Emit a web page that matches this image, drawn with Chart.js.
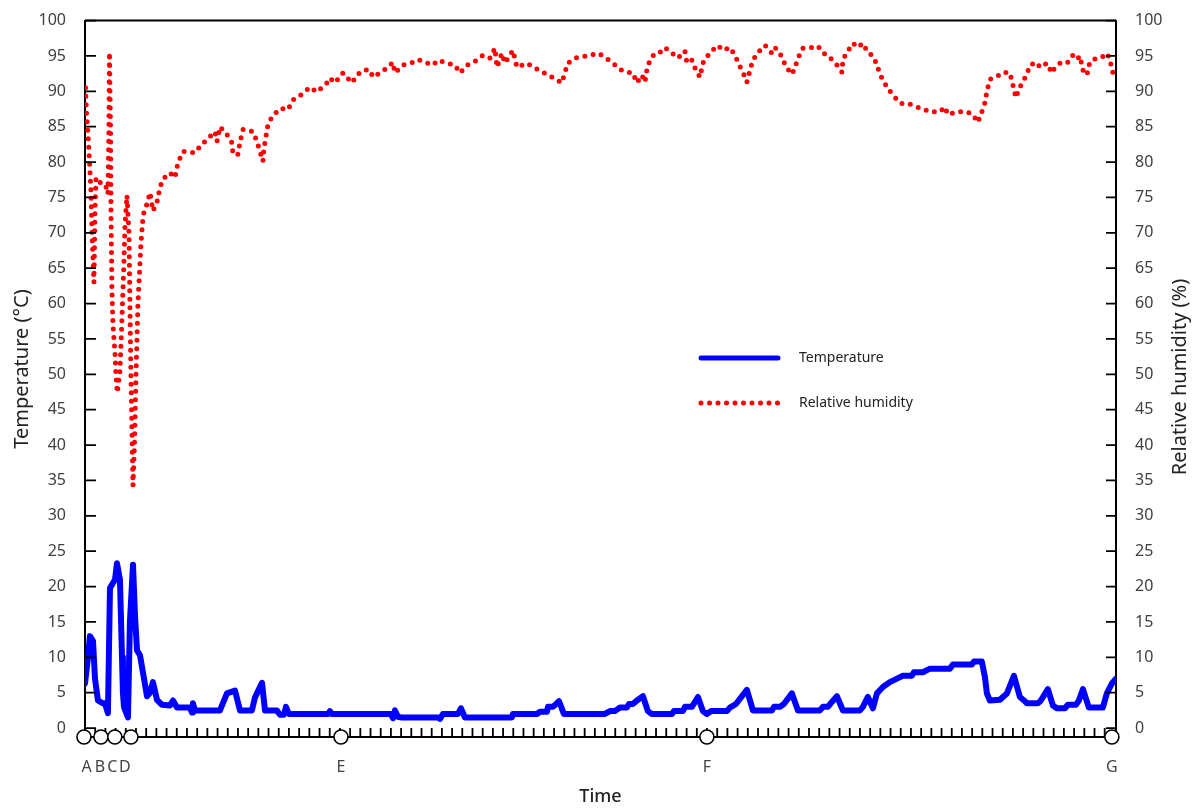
<!DOCTYPE html>
<html>
<head>
<meta charset="utf-8">
<script src="https://cdn.jsdelivr.net/npm/chart.js@4.4.1/dist/chart.umd.min.js"></script>
<style>
  html, body { margin: 0; padding: 0; background: #fff; }
  #wrap { width: 1200px; height: 811px; position: relative; }
</style>
</head>
<body>
<div id="wrap"><canvas id="climateChart"></canvas></div>
<script>
// time axis units: 0 = A, 100 = G
const tempTime = [0.1, 0.39, 0.58, 0.88, 1.07, 1.36, 1.85, 2.04, 2.33, 2.53, 2.82, 3.02, 3.21, 3.5, 3.7, 3.79, 3.89, 4.28,
  4.47, 4.77, 4.96, 5.16, 5.45, 5.84, 6.13, 6.42, 6.71, 7.1, 7.59, 8.37, 8.66, 9.05, 10.31, 10.51, 10.6, 10.8,
  13.23, 13.91, 14.69, 15.18, 16.34, 16.63, 17.32, 17.61, 18.77, 19.07, 19.46, 19.65, 19.94, 23.74, 23.93, 24.12,
  29.86, 30.06, 30.25, 30.54, 30.93, 34.44, 34.63, 34.92, 36.38, 36.67, 37.06, 41.63, 41.73, 44.07, 44.36, 45.04,
  45.14, 45.62, 46.21, 46.69, 50.68, 51.17, 51.65, 52.14, 52.82, 53.02, 53.4, 53.79, 54.38, 54.86, 55.25, 57.2,
  57.39, 58.27, 58.46, 59.14, 59.73, 60.21, 60.6, 60.99, 62.55, 62.84, 63.42, 64.49, 65.08, 66.93, 67.12, 67.7,
  68.09, 68.87, 69.46, 71.6, 71.89, 72.37, 72.76, 73.25, 73.83, 75.49, 75.78, 76.26, 76.75, 77.14, 77.72, 78.4,
  79.09, 79.67, 80.54, 80.74, 81.61, 82.3, 84.24, 84.53, 86.38, 86.58, 87.35, 87.65, 87.84, 88.13, 89.11, 89.4,
  89.79, 90.47, 91.05, 91.54, 91.73, 92.8, 93.09, 93.77, 94.26, 94.65, 95.43, 95.72, 96.5, 96.79, 97.18, 97.76,
  99.12, 99.51, 100, 100.4];
const temperature = [6.3, 10, 13, 12.3, 7, 3.9, 3.5, 3.5, 2.1, 19.8, 20.5, 21, 23.3, 21, 10, 5, 3, 1.5,
  15, 23.1, 16, 11, 10.3, 7, 4.5, 5, 6.5, 4, 3.3, 3.2, 3.9, 2.9, 2.9, 2.2, 3.5, 2.5,
  2.5, 4.9, 5.3, 2.5, 2.5, 4.3, 6.4, 2.5, 2.5, 1.9, 1.9, 3, 2, 2, 2.4, 2,
  2, 1.4, 2.5, 1.6, 1.5, 1.5, 1.3, 2, 2, 2.8, 1.5, 1.5, 2, 2, 2.3, 2.3,
  3, 3, 3.8, 2, 2, 2.4, 2.4, 2.9, 2.9, 3.4, 3.4, 3.9, 4.5, 2.4, 2, 2,
  2.4, 2.4, 3, 3, 4.4, 2.4, 2, 2.4, 2.4, 2.9, 3.4, 5.4, 2.5, 2.5, 3, 3,
  3.4, 4.9, 2.5, 2.5, 3, 3, 3.7, 4.5, 2.5, 2.5, 3, 4.4, 2.8, 4.9, 5.8, 6.5,
  7, 7.4, 7.4, 7.9, 7.9, 8.4, 8.4, 9, 9, 9.4, 9.4, 7.2, 4.9, 3.9, 4, 4.4,
  4.9, 7.4, 4.4, 3.8, 3.5, 3.5, 3.9, 5.5, 3.2, 2.8, 2.8, 3.3, 3.3, 3.9, 5.5, 2.9,
  2.9, 4.9, 6.3, 7];

const humTime = [0.15, 0.24, 0.39, 0.54, 0.68, 0.78, 0.92, 0.97, 1.02, 1.07, 1.17, 1.36, 1.65, 1.85, 2.14, 2.33,
  2.43, 2.48, 2.58, 2.63, 2.72, 2.82, 3.02, 3.11, 3.24, 3.5, 3.7, 3.89, 3.99, 4.18, 4.38, 4.47, 4.57, 4.67, 4.77,
  4.91, 5.06, 5.25, 5.54, 5.74, 5.93, 6.13, 6.42, 6.71, 7.1, 7.39, 7.68, 8.37, 8.85, 9.14, 9.63, 10.8, 11.28,
  11.96, 12.74, 12.94, 13.23, 13.91, 14.4, 14.49, 14.98, 15.18, 15.47, 16.44, 16.83, 17.12, 17.41, 17.51, 17.7,
  17.9, 18.29, 19.07, 19.84, 20.33, 21.21, 21.98, 22.67, 23.64, 23.93, 24.42, 25.19, 26.07, 26.56, 27.14, 27.82,
  28.11, 28.79, 29.47, 30.06, 30.25, 31.03, 32, 32.49, 33.17, 33.95, 34.44, 35.31, 36.09, 36.58, 37.26, 38.23,
  38.81, 39.49, 39.98, 40.18, 40.66, 40.95, 41.73, 42.12, 43.09, 43.87, 44.65, 45.53, 46.5, 46.79, 47.08, 47.96,
  49.03, 50, 50.49, 51.46, 52.14, 52.82, 53.4, 53.79, 54.28, 54.57, 54.77, 55.06, 55.54, 56.03, 56.52, 57.2,
  57.78, 58.46, 58.66, 59.14, 59.44, 59.92, 60.21, 60.89, 61.67, 62.16, 62.84, 63.33, 63.62, 64.11, 64.49, 64.79,
  65.08, 65.56, 66.25, 66.93, 67.22, 67.7, 68, 68.39, 68.87, 69.16, 69.46, 69.94, 70.82, 71.4, 71.89, 72.37,
  73.05, 73.54, 73.74, 73.83, 74.22, 74.81, 75.29, 75.78, 76.26, 76.75, 77.14, 77.43, 77.82, 78.21, 78.7, 79.18,
  79.67, 80.35, 81.03, 81.61, 82.3, 83.27, 83.75, 84.05, 84.92, 85.89, 86.48, 86.96, 87.35, 87.65, 87.84, 88.13,
  88.81, 89.4, 90.08, 90.37, 90.66, 90.86, 91.25, 91.73, 92.02, 92.7, 93, 93.68, 94.16, 94.46, 95.14, 95.72,
  96.21, 96.6, 96.89, 97.18, 97.57, 97.86, 98.54, 99.03, 99.51, 99.81, 100, 100.3];
const humidity = [90.5, 87, 84, 80, 76, 70, 65, 63, 68, 73, 77.8, 77.5, 77, 76.5, 76.5, 75.5,
  85, 95.5, 85, 73, 62, 57, 53, 50, 47.4, 50.5, 58, 66, 71, 75.3, 70, 60, 50, 42, 34.3,
  40, 50, 60, 68.4, 72.2, 73.6, 74, 75.7, 73.1, 74.3, 76.4, 77.6, 78.5, 77.8, 79.9, 81.5, 81.3, 82.2,
  83.2, 84.3, 82.9, 85, 83.9, 82.7, 81.1, 81.1, 82.8, 84.6, 84.3, 82.9, 81.5, 80.1, 82, 83.6,
  85.3, 86.4, 87.6, 87.4, 88.8, 89.6, 90.6, 89.9, 91.2, 91.9, 91.2, 92.6, 91.2, 92.3, 93, 93,
  92, 92.6, 93.3, 94.1, 92.6, 93.7, 94.1, 94.5, 94.1, 93.7, 94.4, 94, 93.7, 92.6, 93.7, 94.4,
  95.1, 94.7, 96.1, 93.4, 95.4, 94, 95.8, 93.4, 94, 93.3, 92.7, 92, 91.2, 92.7, 94, 94.8,
  95, 95.4, 95, 94, 93.1, 92.7, 92.6, 91.2, 92.3, 91.3, 93.1, 94.4, 95.4, 95.5, 96.2, 95.4,
  94.7, 95.7, 94, 94.4, 93.3, 92, 94, 95.5, 96.5, 95.8, 96.2, 95.1, 94.1, 92.7, 91.3, 93,
  94.4, 95.5, 96.5, 95.4, 96.2, 95.4, 94.4, 93.3, 92.4, 93.3, 94.7, 96.1, 96.2, 96.4, 95.4, 95.1,
  94, 93.3, 92.7, 94.5, 95.5, 96.8, 96.2, 96.8, 95.5, 95, 93.8, 92.4, 91.4, 90.3, 89.6, 88.6,
  88.2, 88.2, 87.8, 87.5, 87.1, 87.1, 87.8, 86.7, 87.1, 87.1, 86.7, 85.6, 87.1, 88.4, 90, 91.7,
  92.1, 92.7, 92.6, 90.9, 89.1, 89.9, 91.2, 92.4, 93.7, 94.1, 93.4, 94, 92.6, 93.4, 94.2, 94.1,
  95.1, 94.5, 95, 93, 92.3, 94.2, 94.7, 94.8, 95.4, 94.5, 93.1, 91.7];

const markerTime = [0, 1.65, 3.0, 4.57, 25.0, 60.6, 100];
const markerLabelTime = [0.26, 1.56, 2.75, 3.98, 25.0, 60.6, 100];
const markerLabels = ['A', 'B', 'C', 'D', 'E', 'F', 'G'];
const yTickValues = [0, 5, 10, 15, 20, 25, 30, 35, 40, 45, 50, 55, 60, 65, 70, 75, 80, 85, 90, 95, 100];

const FONT = "'Noto Sans', 'Open Sans', sans-serif";
const tempColor = '#0000ff';
const humColor = '#ff0000';

const toPoints = (xs, ys) => xs.map((x, i) => ({ x, y: ys[i] }));

const axisDecor = {
  id: 'axisDecor',
  afterDraw(chart) {
    const { ctx, chartArea: a, scales } = chart;
    const x = scales.x, y = scales.y, y2 = scales.y2;
    ctx.save();
    ctx.strokeStyle = '#000';
    ctx.lineWidth = 2;

    // top frame line
    ctx.beginPath();
    ctx.moveTo(a.left, a.top);
    ctx.lineTo(a.right, a.top);
    ctx.stroke();

    // inward ticks on both value axes
    ctx.lineWidth = 1.8;
    ctx.beginPath();
    yTickValues.forEach(v => {
      const py = y.getPixelForValue(v);
      ctx.moveTo(a.left, py);
      ctx.lineTo(a.left + 11, py);
      const py2 = y2.getPixelForValue(v);
      ctx.moveTo(a.right, py2);
      ctx.lineTo(a.right - 10, py2);
    });
    // minor time ticks
    for (let i = 0; i <= 100; i++) {
      const px = x.getPixelForValue(0.1 + i * 0.992);
      ctx.moveTo(px, a.bottom);
      ctx.lineTo(px, a.bottom - 9);
    }
    ctx.stroke();

    // open circles on the time axis
    ctx.lineWidth = 1.6;
    markerTime.forEach(t => {
      const px = x.getPixelForValue(t);
      ctx.beginPath();
      ctx.arc(px, a.bottom, 7, 0, Math.PI * 2);
      ctx.fillStyle = '#fff';
      ctx.fill();
      ctx.stroke();
    });

    // letters under the circles
    ctx.fillStyle = '#444';
    ctx.font = `16px ${FONT}`;
    ctx.textAlign = 'center';
    ctx.textBaseline = 'middle';
    markerLabelTime.forEach((t, i) => {
      ctx.fillText(markerLabels[i], x.getPixelForValue(t), a.bottom + 30);
    });

    // axis titles
    ctx.fillStyle = '#222';
    ctx.font = `500 18px ${FONT}`;
    ctx.fillText('Time', (a.left + a.right) / 2, 797);
    ctx.font = `20px ${FONT}`;
    ctx.save();
    ctx.translate(22, 369);
    ctx.rotate(-Math.PI / 2);
    ctx.fillText('Temperature (°C)', 0, 0);
    ctx.restore();
    ctx.save();
    ctx.translate(1180, 377);
    ctx.rotate(-Math.PI / 2);
    ctx.fillText('Relative humidity (%)', 0, 0);
    ctx.restore();

    // legend
    ctx.lineCap = 'round';
    ctx.strokeStyle = tempColor;
    ctx.lineWidth = 5;
    ctx.beginPath();
    ctx.moveTo(701, 358);
    ctx.lineTo(778, 358);
    ctx.stroke();
    ctx.strokeStyle = humColor;
    ctx.lineWidth = 5;
    ctx.setLineDash([0, 8.5]);
    ctx.beginPath();
    ctx.moveTo(701, 403);
    ctx.lineTo(778, 403);
    ctx.stroke();
    ctx.setLineDash([]);
    ctx.fillStyle = '#222';
    ctx.font = `14px ${FONT}`;
    ctx.textAlign = 'left';
    ctx.fillText('Temperature', 799, 358);
    ctx.fillText('Relative humidity', 799, 403);

    ctx.restore();
  }
};

const valueAxis = (position, width) => ({
  type: 'linear',
  position,
  min: -1.26,
  max: 100,
  afterBuildTicks: axis => { axis.ticks = yTickValues.map(v => ({ value: v })); },
  afterFit: axis => { axis.width = width; },
  ticks: { color: '#404040', padding: 11, font: { family: FONT, size: 16 } },
  grid: { display: false },
  border: { display: true, color: '#000', width: 2 }
});

new Chart(document.getElementById('climateChart'), {
  type: 'line',
  data: {
    datasets: [
      {
        label: 'Temperature',
        data: toPoints(tempTime, temperature),
        yAxisID: 'y',
        borderColor: tempColor,
        borderWidth: 6,
        borderJoinStyle: 'round',
        borderCapStyle: 'round',
        pointRadius: 0,
        tension: 0
      },
      {
        label: 'Relative humidity',
        data: toPoints(humTime, humidity),
        yAxisID: 'y2',
        borderColor: humColor,
        borderWidth: 5,
        borderDash: [0, 8.5],
        borderCapStyle: 'round',
        borderJoinStyle: 'round',
        pointRadius: 0,
        tension: 0
      }
    ]
  },
  options: {
    responsive: true,
    maintainAspectRatio: false,
    animation: false,
    devicePixelRatio: 1,
    layout: { padding: { top: 15, left: 0, right: 0, bottom: 0 } },
    scales: {
      x: {
        type: 'linear',
        min: 0.1,
        max: 100.4,
        afterFit: axis => { axis.height = 74; },
        ticks: { display: false },
        grid: { display: false },
        border: { display: true, color: '#000', width: 2 }
      },
      y: valueAxis('left', 85),
      y2: valueAxis('right', 84)
    },
    plugins: {
      legend: { display: false },
      tooltip: { enabled: false }
    }
  },
  plugins: [axisDecor]
});
</script>
</body>
</html>
